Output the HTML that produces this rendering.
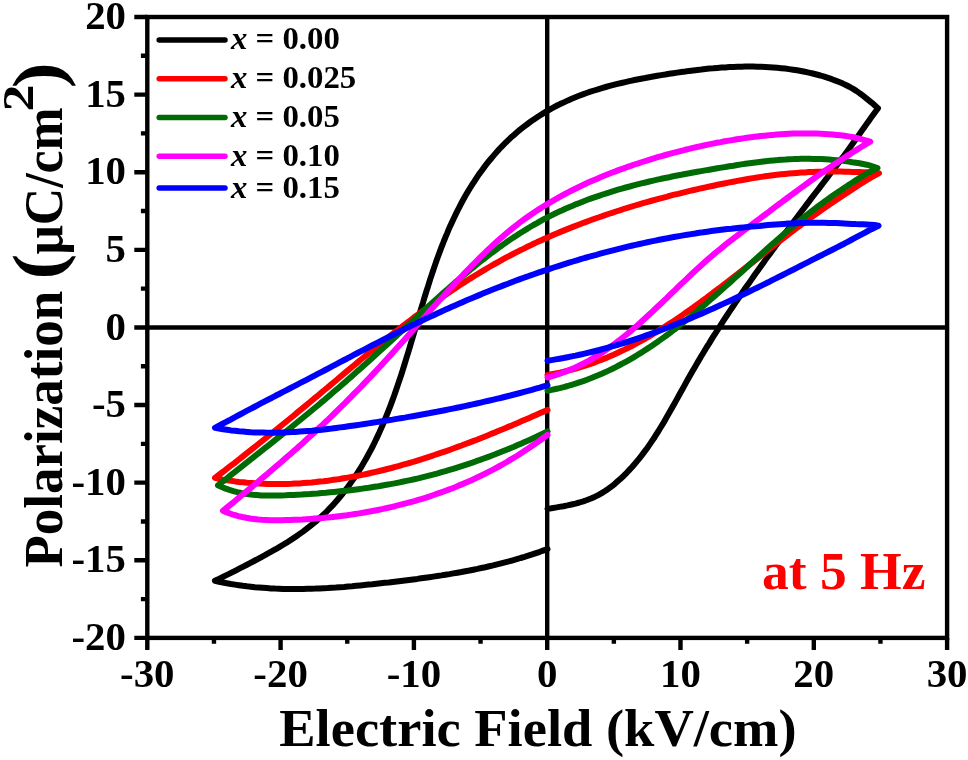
<!DOCTYPE html>
<html lang="en">
<head>
<meta charset="utf-8">
<title>P-E hysteresis loops</title>
<style>
html,body{margin:0;padding:0;background:#fff;}
body{width:968px;height:760px;overflow:hidden;position:relative;font-family:"Liberation Serif",serif;}
svg{position:absolute;left:0;top:0;display:block;will-change:transform;}
text{font-family:"Liberation Serif",serif;font-weight:bold;fill:#000;}
.tick{font-size:39.5px;}
.leg{font-size:32px;}
.leg .it{font-style:italic;}
.xl{font-size:53px;}
.yl{font-size:53px;}
.note{font-size:53px;fill:#ff0000;}
.crv{fill:none;stroke-width:6;stroke-linejoin:round;stroke-linecap:round;}
.ax{stroke:#000;fill:none;}
</style>
</head>
<body>
<svg width="968" height="760" viewBox="0 0 968 760">
<rect x="0" y="0" width="968" height="760" fill="#ffffff"/>
<line class="ax" x1="147.3" y1="327.45" x2="947.1" y2="327.45" stroke-width="4.4"/>
<line class="ax" x1="547.20" y1="17.0" x2="547.20" y2="637.9" stroke-width="4.4"/>
<path class="crv" stroke="#000000" d="M547.5 508.9 L551.5 508.3 L555.4 507.6 L559.4 506.9 L563.5 506.2 L567.5 505.4 L571.5 504.5 L575.5 503.6 L579.4 502.5 L583.3 501.3 L587.1 500.0 L590.9 498.5 L594.6 496.9 L598.2 495.1 L601.7 493.1 L605.1 491.0 L608.5 488.7 L611.7 486.3 L614.9 483.8 L617.9 481.1 L620.9 478.4 L623.8 475.7 L626.7 472.8 L629.4 469.9 L632.1 467.0 L634.7 464.0 L637.3 460.9 L639.8 457.8 L642.3 454.6 L644.7 451.4 L647.1 448.2 L649.4 444.9 L651.6 441.6 L653.9 438.3 L656.0 434.9 L658.2 431.5 L660.3 428.0 L662.4 424.6 L664.5 421.1 L666.5 417.6 L668.5 414.1 L670.5 410.6 L672.5 407.0 L674.5 403.5 L676.5 399.9 L678.5 396.3 L680.4 392.8 L682.4 389.2 L684.4 385.6 L686.3 382.1 L688.3 378.5 L690.3 375.0 L692.3 371.5 L694.4 367.9 L696.4 364.4 L698.5 360.9 L700.5 357.4 L702.6 354.0 L704.7 350.5 L706.8 347.0 L709.0 343.6 L711.1 340.1 L713.2 336.7 L715.4 333.3 L717.6 329.9 L719.7 326.5 L721.9 323.1 L724.1 319.7 L726.4 316.3 L728.6 312.9 L730.8 309.6 L733.1 306.2 L735.3 302.9 L737.6 299.5 L739.9 296.2 L742.1 292.9 L744.4 289.5 L746.7 286.2 L749.1 282.9 L751.4 279.6 L753.7 276.3 L756.0 273.0 L758.4 269.7 L760.7 266.5 L763.1 263.2 L765.4 259.9 L767.8 256.6 L770.2 253.4 L772.6 250.1 L775.0 246.9 L777.3 243.6 L779.7 240.4 L782.1 237.1 L784.6 233.9 L787.0 230.7 L789.4 227.4 L791.8 224.2 L794.2 221.0 L796.7 217.7 L799.1 214.5 L801.5 211.3 L804.0 208.1 L806.4 204.9 L808.9 201.6 L811.3 198.4 L813.8 195.2 L816.2 192.0 L818.7 188.8 L821.1 185.6 L823.6 182.4 L826.1 179.2 L828.5 175.9 L831.0 172.7 L833.4 169.5 L835.9 166.3 L838.4 163.1 L840.8 159.9 L843.3 156.7 L845.6 153.5 L848.0 150.2 L850.3 147.0 L852.6 143.8 L854.9 140.6 L857.2 137.4 L859.5 134.1 L861.7 130.9 L864.0 127.7 L866.3 124.4 L868.6 121.2 L870.9 117.9 L873.2 114.7 L875.6 111.5 L878.0 108.2 L874.9 105.5 L871.9 102.8 L868.8 100.3 L865.7 97.8 L862.6 95.4 L859.5 93.1 L856.3 90.9 L853.1 88.9 L849.8 87.0 L846.4 85.3 L842.9 83.6 L839.2 82.0 L835.5 80.6 L831.8 79.2 L828.0 77.9 L824.3 76.7 L820.4 75.5 L816.6 74.5 L812.7 73.5 L808.8 72.6 L804.9 71.8 L801.0 71.0 L797.0 70.3 L793.1 69.7 L789.1 69.1 L785.2 68.6 L781.2 68.2 L777.2 67.8 L773.3 67.5 L769.3 67.2 L765.3 67.0 L761.3 66.8 L757.3 66.7 L753.3 66.6 L749.4 66.6 L745.4 66.6 L741.4 66.7 L737.4 66.8 L733.4 66.9 L729.4 67.1 L725.4 67.4 L721.4 67.6 L717.4 67.9 L713.3 68.3 L709.3 68.6 L705.3 69.0 L701.3 69.5 L697.3 69.9 L693.3 70.4 L689.3 70.9 L685.3 71.5 L681.3 72.0 L677.2 72.6 L673.2 73.2 L669.2 73.8 L665.2 74.5 L661.2 75.1 L657.2 75.8 L653.2 76.5 L649.2 77.2 L645.2 78.0 L641.2 78.7 L637.2 79.5 L633.2 80.3 L629.3 81.2 L625.3 82.1 L621.4 83.0 L617.4 83.9 L613.5 84.9 L609.6 85.9 L605.7 87.0 L601.9 88.1 L598.0 89.3 L594.2 90.5 L590.4 91.7 L586.6 93.0 L582.8 94.4 L579.1 95.8 L575.4 97.3 L571.7 98.8 L568.0 100.4 L564.4 102.1 L560.7 103.8 L557.2 105.5 L553.6 107.4 L550.1 109.3 L546.6 111.3 L543.2 113.4 L539.8 115.5 L536.4 117.7 L533.1 119.9 L529.8 122.3 L526.5 124.7 L523.3 127.1 L520.1 129.6 L517.0 132.2 L514.0 134.9 L510.9 137.6 L508.0 140.4 L505.1 143.2 L502.2 146.1 L499.4 149.0 L496.7 152.0 L494.0 155.1 L491.4 158.2 L488.8 161.3 L486.3 164.4 L483.9 167.6 L481.5 170.9 L479.1 174.1 L476.9 177.4 L474.7 180.8 L472.5 184.1 L470.4 187.5 L468.3 190.9 L466.3 194.3 L464.3 197.8 L462.4 201.3 L460.5 204.8 L458.7 208.3 L456.9 211.9 L455.2 215.4 L453.5 219.0 L451.8 222.6 L450.1 226.3 L448.5 229.9 L447.0 233.6 L445.4 237.3 L443.9 241.0 L442.5 244.7 L441.0 248.4 L439.6 252.2 L438.2 256.0 L436.8 259.8 L435.5 263.6 L434.2 267.4 L432.9 271.2 L431.6 275.1 L430.3 278.9 L429.1 282.8 L427.9 286.7 L426.6 290.6 L425.4 294.5 L424.2 298.4 L423.1 302.3 L421.9 306.2 L420.7 310.1 L419.5 314.0 L418.4 318.0 L417.2 321.9 L416.1 325.8 L414.9 329.8 L413.8 333.7 L412.6 337.6 L411.4 341.5 L410.3 345.5 L409.1 349.4 L407.9 353.3 L406.7 357.2 L405.5 361.1 L404.3 365.0 L403.1 368.9 L401.9 372.8 L400.6 376.7 L399.3 380.5 L398.0 384.4 L396.7 388.2 L395.4 392.0 L394.1 395.8 L392.7 399.6 L391.3 403.4 L389.9 407.2 L388.4 410.9 L386.9 414.7 L385.4 418.4 L383.9 422.1 L382.3 425.7 L380.7 429.4 L379.1 433.0 L377.4 436.6 L375.7 440.2 L374.0 443.7 L372.2 447.3 L370.4 450.8 L368.5 454.2 L366.6 457.7 L364.7 461.1 L362.7 464.5 L360.7 467.9 L358.6 471.2 L356.5 474.5 L354.3 477.7 L352.1 480.9 L349.9 484.1 L347.6 487.3 L345.2 490.4 L342.8 493.5 L340.3 496.5 L337.8 499.5 L335.2 502.5 L332.6 505.4 L329.9 508.2 L327.2 511.0 L324.4 513.8 L321.5 516.5 L318.6 519.1 L315.6 521.7 L312.5 524.2 L309.4 526.7 L306.2 529.2 L303.0 531.6 L299.7 533.9 L296.4 536.2 L293.0 538.5 L289.6 540.7 L286.2 542.9 L282.7 545.0 L279.2 547.1 L275.7 549.2 L272.1 551.2 L268.5 553.2 L265.0 555.2 L261.4 557.1 L257.7 559.1 L254.1 561.0 L250.5 562.9 L246.9 564.7 L243.3 566.6 L239.7 568.4 L236.1 570.3 L232.5 572.1 L229.0 573.9 L225.4 575.6 L221.9 577.4 L218.4 579.1 L215.0 580.8 L219.0 581.7 L222.9 582.5 L226.9 583.3 L230.9 584.0 L234.9 584.6 L238.9 585.2 L242.9 585.8 L246.9 586.3 L250.9 586.7 L254.9 587.2 L258.9 587.5 L262.9 587.8 L266.9 588.1 L271.0 588.4 L275.0 588.6 L279.0 588.7 L283.1 588.9 L287.1 588.9 L291.2 589.0 L295.2 589.0 L299.3 589.0 L303.3 588.9 L307.4 588.8 L311.5 588.7 L315.5 588.6 L319.6 588.4 L323.6 588.2 L327.7 588.0 L331.8 587.7 L335.8 587.5 L339.9 587.2 L344.0 586.9 L348.1 586.5 L352.1 586.2 L356.2 585.8 L360.3 585.4 L364.3 585.0 L368.4 584.6 L372.5 584.2 L376.6 583.7 L380.6 583.3 L384.7 582.8 L388.8 582.4 L392.8 581.9 L396.9 581.4 L400.9 580.9 L405.0 580.4 L409.1 579.9 L413.1 579.4 L417.2 578.9 L421.2 578.3 L425.2 577.8 L429.3 577.2 L433.3 576.6 L437.4 576.0 L441.4 575.4 L445.4 574.7 L449.4 574.1 L453.4 573.4 L457.4 572.7 L461.4 572.0 L465.4 571.2 L469.4 570.5 L473.4 569.7 L477.4 568.9 L481.3 568.0 L485.3 567.2 L489.3 566.3 L493.2 565.4 L497.1 564.4 L501.1 563.4 L505.0 562.4 L508.9 561.4 L512.8 560.3 L516.7 559.2 L520.6 558.0 L524.5 556.9 L528.3 555.7 L532.2 554.4 L536.0 553.1 L539.9 551.8 L543.7 550.4 L547.5 549.0"/>
<path class="crv" stroke="#ff0000" d="M547.5 375.0 L551.6 374.2 L555.7 373.4 L559.8 372.6 L563.8 371.7 L567.8 370.7 L571.8 369.6 L575.7 368.6 L579.6 367.4 L583.5 366.2 L587.3 364.9 L591.2 363.6 L595.0 362.3 L598.8 360.8 L602.5 359.4 L606.2 357.9 L609.9 356.3 L613.6 354.7 L617.3 353.0 L620.9 351.3 L624.5 349.6 L628.1 347.8 L631.7 346.0 L635.2 344.1 L638.7 342.2 L642.2 340.3 L645.7 338.3 L649.2 336.3 L652.7 334.3 L656.1 332.2 L659.5 330.1 L662.9 328.0 L666.3 325.8 L669.7 323.6 L673.1 321.4 L676.4 319.2 L679.8 316.9 L683.1 314.6 L686.4 312.3 L689.7 310.0 L693.0 307.6 L696.3 305.3 L699.6 302.9 L702.8 300.5 L706.1 298.1 L709.3 295.6 L712.6 293.2 L715.8 290.7 L719.1 288.3 L722.3 285.8 L725.5 283.3 L728.7 280.9 L731.9 278.4 L735.1 275.9 L738.4 273.4 L741.6 270.9 L744.8 268.3 L748.0 265.8 L751.2 263.3 L754.4 260.8 L757.6 258.3 L760.8 255.8 L764.0 253.3 L767.2 250.7 L770.4 248.2 L773.6 245.7 L776.8 243.2 L780.0 240.8 L783.3 238.3 L786.5 235.8 L789.7 233.3 L793.0 230.9 L796.2 228.4 L799.5 226.0 L802.7 223.6 L806.0 221.2 L809.3 218.8 L812.6 216.4 L815.9 214.0 L819.2 211.7 L822.5 209.3 L825.8 207.0 L829.1 204.7 L832.5 202.5 L835.9 200.2 L839.2 198.0 L842.6 195.8 L845.9 193.6 L849.2 191.4 L852.4 189.3 L855.6 187.2 L858.8 185.1 L862.1 183.0 L865.3 181.0 L868.6 179.0 L872.0 177.0 L875.4 175.1 L879.0 173.2 L875.0 172.8 L871.2 172.5 L867.4 172.3 L863.6 172.2 L859.9 172.1 L856.2 172.0 L852.5 171.9 L848.7 171.8 L844.9 171.7 L840.9 171.6 L836.9 171.6 L832.9 171.6 L828.9 171.6 L824.9 171.6 L820.9 171.7 L816.9 171.8 L812.9 172.0 L808.9 172.1 L804.9 172.4 L801.0 172.6 L797.0 172.9 L793.0 173.2 L789.0 173.5 L785.0 173.9 L781.0 174.3 L777.0 174.8 L773.0 175.3 L769.1 175.8 L765.1 176.3 L761.1 176.9 L757.1 177.5 L753.1 178.1 L749.2 178.8 L745.2 179.5 L741.2 180.2 L737.3 180.9 L733.3 181.7 L729.4 182.4 L725.4 183.2 L721.4 184.0 L717.5 184.8 L713.5 185.7 L709.6 186.5 L705.6 187.4 L701.7 188.2 L697.8 189.1 L693.8 190.0 L689.9 190.9 L686.0 191.8 L682.0 192.8 L678.1 193.8 L674.2 194.7 L670.3 195.7 L666.4 196.8 L662.5 197.8 L658.6 198.8 L654.7 199.9 L650.8 201.0 L646.9 202.1 L643.0 203.2 L639.1 204.3 L635.2 205.5 L631.4 206.7 L627.5 207.8 L623.6 209.0 L619.8 210.3 L615.9 211.5 L612.1 212.8 L608.3 214.0 L604.5 215.3 L600.6 216.7 L596.8 218.0 L593.0 219.3 L589.2 220.7 L585.5 222.1 L581.7 223.5 L577.9 225.0 L574.2 226.4 L570.4 227.9 L566.7 229.4 L563.0 230.9 L559.2 232.4 L555.5 234.0 L551.9 235.6 L548.2 237.2 L544.5 238.8 L540.8 240.5 L537.2 242.1 L533.6 243.8 L530.0 245.6 L526.3 247.3 L522.8 249.1 L519.2 250.8 L515.6 252.7 L512.1 254.5 L508.5 256.4 L505.0 258.2 L501.5 260.1 L498.0 262.1 L494.5 264.0 L491.0 266.0 L487.6 268.0 L484.1 270.1 L480.7 272.1 L477.3 274.2 L473.9 276.3 L470.5 278.4 L467.1 280.5 L463.8 282.7 L460.4 284.8 L457.1 287.0 L453.8 289.2 L450.4 291.5 L447.1 293.7 L443.8 296.0 L440.6 298.2 L437.3 300.5 L434.0 302.9 L430.8 305.2 L427.5 307.5 L424.3 309.9 L421.0 312.3 L417.8 314.6 L414.6 317.0 L411.4 319.5 L408.2 321.9 L405.0 324.3 L401.8 326.8 L398.7 329.2 L395.5 331.7 L392.3 334.2 L389.2 336.7 L386.0 339.2 L382.9 341.7 L379.7 344.2 L376.6 346.8 L373.5 349.3 L370.4 351.8 L367.2 354.4 L364.1 357.0 L361.0 359.5 L357.9 362.1 L354.8 364.7 L351.7 367.3 L348.6 369.8 L345.5 372.4 L342.4 375.0 L339.4 377.6 L336.3 380.2 L333.2 382.8 L330.1 385.4 L327.0 388.0 L323.9 390.5 L320.9 393.1 L317.8 395.7 L314.7 398.2 L311.6 400.8 L308.6 403.3 L305.5 405.9 L302.4 408.4 L299.3 410.9 L296.2 413.4 L293.2 416.0 L290.1 418.5 L287.0 421.0 L283.9 423.5 L280.8 426.0 L277.7 428.5 L274.6 431.0 L271.5 433.5 L268.4 436.0 L265.3 438.5 L262.2 441.0 L259.1 443.5 L256.0 446.0 L252.9 448.4 L249.8 450.9 L246.6 453.4 L243.5 455.9 L240.4 458.4 L237.2 460.8 L234.1 463.3 L230.9 465.7 L227.7 468.2 L224.6 470.6 L221.4 473.0 L218.2 475.4 L215.0 477.8 L219.0 478.9 L223.0 479.6 L227.1 480.2 L231.1 480.8 L235.1 481.4 L239.1 481.9 L243.2 482.3 L247.2 482.7 L251.2 483.0 L255.2 483.3 L259.3 483.5 L263.3 483.7 L267.3 483.9 L271.4 484.0 L275.4 484.0 L279.4 484.0 L283.4 484.0 L287.5 483.9 L291.5 483.8 L295.5 483.6 L299.5 483.4 L303.6 483.1 L307.6 482.8 L311.6 482.5 L315.6 482.1 L319.6 481.6 L323.7 481.2 L327.7 480.7 L331.7 480.1 L335.7 479.6 L339.7 479.0 L343.7 478.3 L347.7 477.6 L351.7 476.9 L355.7 476.2 L359.7 475.4 L363.6 474.6 L367.6 473.7 L371.6 472.8 L375.6 471.9 L379.5 471.0 L383.5 470.0 L387.4 469.0 L391.4 468.0 L395.4 466.9 L399.3 465.9 L403.2 464.7 L407.2 463.6 L411.1 462.5 L415.0 461.3 L418.9 460.1 L422.8 458.9 L426.7 457.6 L430.6 456.3 L434.5 455.0 L438.4 453.7 L442.3 452.4 L446.2 451.1 L450.0 449.7 L453.9 448.3 L457.7 446.9 L461.6 445.5 L465.4 444.0 L469.2 442.6 L473.1 441.1 L476.9 439.7 L480.7 438.2 L484.5 436.7 L488.2 435.2 L492.0 433.6 L495.8 432.1 L499.5 430.5 L503.3 429.0 L507.0 427.4 L510.8 425.9 L514.5 424.3 L518.2 422.7 L521.9 421.1 L525.6 419.5 L529.3 417.9 L532.9 416.3 L536.6 414.7 L540.2 413.1 L543.9 411.5 L547.5 409.9"/>
<path class="crv" stroke="#006b04" d="M547.5 390.7 L551.6 389.9 L555.7 389.0 L559.7 388.1 L563.7 387.1 L567.7 386.0 L571.6 384.8 L575.5 383.7 L579.3 382.4 L583.2 381.1 L587.0 379.7 L590.7 378.3 L594.4 376.8 L598.1 375.3 L601.8 373.7 L605.5 372.1 L609.1 370.4 L612.6 368.7 L616.2 366.9 L619.7 365.0 L623.2 363.2 L626.7 361.3 L630.2 359.3 L633.6 357.3 L637.0 355.2 L640.4 353.2 L643.8 351.0 L647.1 348.9 L650.4 346.7 L653.7 344.5 L657.0 342.2 L660.3 339.9 L663.5 337.6 L666.8 335.2 L670.0 332.8 L673.2 330.4 L676.4 328.0 L679.5 325.5 L682.7 323.0 L685.8 320.5 L689.0 317.9 L692.1 315.4 L695.2 312.8 L698.3 310.2 L701.4 307.6 L704.5 304.9 L707.5 302.3 L710.6 299.6 L713.7 296.9 L716.7 294.2 L719.8 291.5 L722.8 288.8 L725.8 286.1 L728.9 283.4 L731.9 280.7 L734.9 277.9 L737.9 275.2 L741.0 272.4 L744.0 269.7 L747.0 266.9 L750.0 264.2 L753.1 261.4 L756.1 258.7 L759.1 256.0 L762.2 253.2 L765.2 250.5 L768.2 247.8 L771.3 245.1 L774.3 242.4 L777.4 239.7 L780.5 237.0 L783.6 234.3 L786.7 231.7 L789.7 229.1 L792.9 226.4 L796.0 223.8 L799.1 221.3 L802.3 218.7 L805.4 216.2 L808.6 213.6 L811.8 211.1 L815.0 208.7 L818.2 206.2 L821.4 203.8 L824.7 201.4 L827.9 199.1 L831.2 196.7 L834.5 194.4 L837.8 192.2 L841.2 190.0 L844.5 187.8 L847.7 185.6 L851.0 183.5 L854.2 181.4 L857.4 179.4 L860.6 177.4 L863.8 175.4 L867.1 173.5 L870.5 171.6 L873.9 169.8 L877.5 168.0 L873.9 166.8 L870.3 165.7 L866.7 164.7 L863.1 164.0 L859.5 163.3 L855.9 162.7 L852.3 162.2 L848.6 161.6 L844.9 161.1 L841.0 160.6 L837.1 160.2 L833.1 159.9 L829.2 159.6 L825.2 159.3 L821.3 159.1 L817.3 159.0 L813.4 158.9 L809.4 158.8 L805.4 158.8 L801.5 158.8 L797.5 158.9 L793.5 159.1 L789.5 159.2 L785.5 159.5 L781.5 159.7 L777.5 160.1 L773.5 160.4 L769.5 160.8 L765.5 161.2 L761.5 161.7 L757.5 162.2 L753.5 162.7 L749.5 163.2 L745.4 163.8 L741.4 164.4 L737.4 165.0 L733.4 165.7 L729.4 166.3 L725.4 167.0 L721.3 167.6 L717.3 168.3 L713.3 169.0 L709.3 169.7 L705.3 170.4 L701.2 171.1 L697.2 171.8 L693.2 172.5 L689.2 173.3 L685.2 174.0 L681.2 174.8 L677.2 175.5 L673.2 176.3 L669.2 177.2 L665.2 178.0 L661.2 178.8 L657.3 179.7 L653.3 180.6 L649.3 181.5 L645.4 182.5 L641.4 183.4 L637.5 184.4 L633.6 185.4 L629.7 186.5 L625.8 187.5 L621.9 188.6 L618.0 189.7 L614.2 190.9 L610.3 192.1 L606.5 193.3 L602.7 194.5 L598.9 195.8 L595.1 197.1 L591.3 198.4 L587.5 199.8 L583.8 201.2 L580.1 202.7 L576.4 204.1 L572.7 205.7 L569.0 207.2 L565.4 208.8 L561.8 210.5 L558.1 212.1 L554.6 213.8 L551.0 215.6 L547.5 217.4 L543.9 219.2 L540.4 221.1 L537.0 223.1 L533.5 225.0 L530.1 227.0 L526.7 229.1 L523.3 231.2 L519.9 233.3 L516.6 235.5 L513.2 237.6 L509.9 239.9 L506.6 242.1 L503.4 244.4 L500.1 246.7 L496.9 249.1 L493.6 251.5 L490.4 253.9 L487.2 256.3 L484.0 258.8 L480.9 261.2 L477.7 263.7 L474.6 266.3 L471.4 268.8 L468.3 271.4 L465.2 274.0 L462.1 276.6 L459.0 279.2 L455.9 281.8 L452.9 284.5 L449.8 287.2 L446.8 289.9 L443.7 292.5 L440.7 295.2 L437.7 298.0 L434.6 300.7 L431.6 303.4 L428.6 306.2 L425.6 308.9 L422.6 311.7 L419.6 314.4 L416.6 317.2 L413.6 319.9 L410.7 322.7 L407.7 325.4 L404.7 328.2 L401.7 331.0 L398.7 333.7 L395.8 336.5 L392.8 339.2 L389.8 341.9 L386.8 344.7 L383.9 347.4 L380.9 350.1 L377.9 352.8 L374.9 355.5 L371.9 358.2 L368.9 360.9 L366.0 363.6 L363.0 366.3 L360.0 368.9 L357.0 371.6 L354.0 374.2 L351.0 376.9 L348.0 379.5 L345.0 382.2 L342.0 384.8 L339.0 387.4 L335.9 390.0 L332.9 392.6 L329.9 395.2 L326.9 397.8 L323.9 400.4 L320.8 402.9 L317.8 405.5 L314.7 408.0 L311.7 410.5 L308.7 413.0 L305.6 415.5 L302.6 418.0 L299.5 420.5 L296.4 423.0 L293.4 425.5 L290.3 428.0 L287.2 430.5 L284.1 432.9 L281.0 435.4 L277.9 437.9 L274.8 440.3 L271.7 442.8 L268.6 445.3 L265.5 447.7 L262.4 450.2 L259.3 452.7 L256.1 455.2 L253.0 457.7 L249.8 460.2 L246.7 462.7 L243.5 465.2 L240.4 467.7 L237.2 470.2 L234.0 472.7 L230.8 475.2 L227.6 477.8 L224.4 480.3 L221.2 482.8 L218.0 485.3 L221.8 487.0 L225.7 488.6 L229.5 489.9 L233.4 491.1 L237.3 492.1 L241.2 493.0 L245.2 493.7 L249.1 494.3 L253.1 494.8 L257.1 495.1 L261.1 495.4 L265.1 495.5 L269.1 495.6 L273.1 495.6 L277.2 495.5 L281.2 495.4 L285.3 495.3 L289.3 495.1 L293.4 494.9 L297.4 494.7 L301.5 494.5 L305.5 494.2 L309.6 494.0 L313.7 493.7 L317.7 493.4 L321.8 493.0 L325.9 492.7 L329.9 492.3 L334.0 491.9 L338.1 491.5 L342.1 491.1 L346.2 490.7 L350.2 490.2 L354.3 489.7 L358.3 489.2 L362.4 488.6 L366.4 488.1 L370.4 487.5 L374.5 486.8 L378.5 486.2 L382.5 485.5 L386.5 484.8 L390.5 484.1 L394.5 483.4 L398.5 482.6 L402.4 481.8 L406.4 480.9 L410.3 480.1 L414.3 479.2 L418.2 478.3 L422.1 477.3 L426.1 476.3 L430.0 475.3 L433.9 474.3 L437.8 473.3 L441.6 472.2 L445.5 471.1 L449.4 469.9 L453.2 468.8 L457.1 467.6 L460.9 466.4 L464.8 465.1 L468.6 463.8 L472.4 462.6 L476.2 461.2 L480.0 459.9 L483.8 458.5 L487.6 457.1 L491.4 455.7 L495.2 454.3 L499.0 452.8 L502.7 451.3 L506.5 449.8 L510.2 448.2 L514.0 446.7 L517.7 445.1 L521.5 443.5 L525.2 441.8 L528.9 440.2 L532.7 438.5 L536.4 436.8 L540.1 435.1 L543.8 433.3 L547.5 431.5"/>
<path class="crv" stroke="#ff00ff" d="M547.5 377.5 L551.5 376.4 L555.4 375.2 L559.3 373.9 L563.1 372.5 L566.9 371.1 L570.6 369.5 L574.3 367.9 L578.0 366.2 L581.5 364.5 L585.1 362.7 L588.6 360.8 L592.0 358.8 L595.4 356.8 L598.8 354.7 L602.2 352.5 L605.5 350.3 L608.7 348.0 L612.0 345.7 L615.2 343.4 L618.4 341.0 L621.5 338.5 L624.7 336.0 L627.8 333.5 L630.9 330.9 L633.9 328.3 L637.0 325.7 L640.0 323.0 L643.0 320.3 L646.0 317.6 L649.0 314.8 L651.9 312.1 L654.9 309.3 L657.8 306.5 L660.8 303.7 L663.7 300.9 L666.7 298.1 L669.6 295.2 L672.5 292.4 L675.5 289.6 L678.4 286.7 L681.3 283.9 L684.3 281.1 L687.2 278.3 L690.2 275.5 L693.1 272.7 L696.1 270.0 L699.1 267.2 L702.1 264.5 L705.1 261.8 L708.2 259.1 L711.2 256.5 L714.3 253.9 L717.4 251.3 L720.5 248.8 L723.7 246.2 L726.8 243.7 L730.0 241.2 L733.2 238.7 L736.3 236.3 L739.5 233.8 L742.7 231.4 L745.9 229.0 L749.2 226.6 L752.4 224.1 L755.6 221.7 L758.8 219.3 L762.0 216.9 L765.3 214.5 L768.5 212.1 L771.7 209.6 L774.9 207.2 L778.2 204.8 L781.4 202.4 L784.6 200.0 L787.9 197.5 L791.1 195.1 L794.4 192.7 L797.6 190.3 L800.9 187.9 L804.1 185.6 L807.4 183.2 L810.7 180.8 L814.0 178.5 L817.3 176.1 L820.6 173.8 L823.9 171.5 L827.2 169.2 L830.6 166.9 L833.9 164.6 L837.3 162.4 L840.7 160.2 L844.0 158.0 L847.3 155.9 L850.6 153.7 L853.8 151.6 L857.0 149.6 L860.3 147.5 L863.5 145.6 L866.8 143.6 L870.2 141.7 L866.5 140.6 L862.9 139.6 L859.3 138.6 L855.6 137.8 L852.0 137.0 L848.3 136.4 L844.5 135.8 L840.6 135.3 L836.6 134.9 L832.7 134.5 L828.7 134.2 L824.7 133.9 L820.7 133.7 L816.8 133.5 L812.8 133.4 L808.8 133.4 L804.8 133.4 L800.8 133.4 L796.8 133.5 L792.8 133.6 L788.8 133.8 L784.8 134.0 L780.8 134.3 L776.8 134.6 L772.7 134.9 L768.7 135.3 L764.7 135.7 L760.7 136.1 L756.7 136.6 L752.7 137.1 L748.7 137.6 L744.7 138.1 L740.7 138.7 L736.7 139.3 L732.8 140.0 L728.8 140.6 L724.8 141.3 L720.8 142.1 L716.8 142.8 L712.8 143.6 L708.9 144.4 L704.9 145.2 L700.9 146.1 L697.0 147.0 L693.0 147.9 L689.1 148.9 L685.1 149.8 L681.2 150.8 L677.3 151.8 L673.3 152.9 L669.4 153.9 L665.5 155.0 L661.6 156.1 L657.7 157.2 L653.8 158.4 L649.9 159.6 L646.0 160.8 L642.2 162.0 L638.3 163.3 L634.4 164.5 L630.6 165.9 L626.8 167.2 L623.0 168.6 L619.2 169.9 L615.4 171.4 L611.6 172.8 L607.8 174.3 L604.1 175.8 L600.4 177.3 L596.7 178.9 L593.0 180.5 L589.3 182.1 L585.6 183.8 L582.0 185.5 L578.4 187.2 L574.8 189.0 L571.2 190.8 L567.6 192.6 L564.1 194.5 L560.6 196.4 L557.1 198.4 L553.6 200.3 L550.2 202.3 L546.7 204.4 L543.3 206.5 L540.0 208.6 L536.6 210.8 L533.3 213.0 L530.0 215.2 L526.8 217.5 L523.5 219.8 L520.3 222.2 L517.2 224.6 L514.0 227.1 L510.9 229.6 L507.8 232.1 L504.7 234.7 L501.7 237.4 L498.6 240.0 L495.6 242.7 L492.6 245.5 L489.7 248.3 L486.7 251.0 L483.8 253.9 L480.9 256.7 L478.0 259.6 L475.1 262.5 L472.2 265.4 L469.4 268.3 L466.6 271.2 L463.7 274.2 L460.9 277.2 L458.1 280.1 L455.3 283.1 L452.6 286.1 L449.8 289.0 L447.1 292.0 L444.3 295.0 L441.6 298.0 L438.8 301.0 L436.1 304.1 L433.4 307.1 L430.7 310.1 L428.0 313.2 L425.3 316.2 L422.6 319.2 L419.9 322.3 L417.2 325.3 L414.5 328.4 L411.8 331.4 L409.1 334.5 L406.4 337.5 L403.7 340.6 L401.0 343.6 L398.3 346.6 L395.6 349.6 L392.9 352.6 L390.1 355.6 L387.4 358.6 L384.7 361.6 L381.9 364.6 L379.2 367.5 L376.4 370.5 L373.7 373.4 L370.9 376.3 L368.1 379.3 L365.3 382.2 L362.6 385.1 L359.8 388.0 L357.0 390.8 L354.1 393.7 L351.3 396.6 L348.5 399.4 L345.7 402.3 L342.8 405.1 L340.0 407.9 L337.2 410.7 L334.3 413.5 L331.4 416.3 L328.6 419.1 L325.7 421.8 L322.8 424.6 L319.9 427.3 L317.0 430.0 L314.1 432.7 L311.2 435.4 L308.2 438.1 L305.3 440.7 L302.4 443.4 L299.4 446.0 L296.5 448.7 L293.5 451.3 L290.5 453.9 L287.5 456.5 L284.6 459.1 L281.6 461.7 L278.6 464.3 L275.5 466.9 L272.5 469.5 L269.5 472.1 L266.5 474.7 L263.4 477.2 L260.3 479.8 L257.3 482.4 L254.2 485.0 L251.1 487.6 L248.0 490.1 L244.9 492.7 L241.8 495.3 L238.7 497.9 L235.6 500.5 L232.5 503.1 L229.3 505.7 L226.2 508.2 L223.0 510.8 L226.8 512.4 L230.7 513.8 L234.5 515.0 L238.4 516.1 L242.3 517.0 L246.2 517.8 L250.2 518.5 L254.1 519.0 L258.1 519.5 L262.1 519.8 L266.0 520.0 L270.0 520.2 L274.1 520.3 L278.1 520.3 L282.1 520.2 L286.1 520.1 L290.2 520.0 L294.2 519.8 L298.3 519.7 L302.3 519.5 L306.4 519.2 L310.4 518.9 L314.5 518.6 L318.5 518.3 L322.6 518.0 L326.7 517.6 L330.7 517.2 L334.8 516.7 L338.8 516.2 L342.9 515.7 L346.9 515.2 L350.9 514.6 L355.0 514.0 L359.0 513.4 L363.0 512.7 L367.0 512.0 L371.1 511.3 L375.1 510.5 L379.0 509.7 L383.0 508.9 L387.0 508.0 L390.9 507.1 L394.9 506.2 L398.8 505.2 L402.7 504.2 L406.6 503.2 L410.5 502.1 L414.4 501.1 L418.3 499.9 L422.1 498.8 L426.0 497.6 L429.8 496.3 L433.6 495.0 L437.4 493.7 L441.2 492.4 L445.0 491.0 L448.7 489.6 L452.5 488.2 L456.2 486.7 L459.9 485.1 L463.6 483.6 L467.3 482.0 L470.9 480.4 L474.6 478.7 L478.2 477.0 L481.9 475.2 L485.5 473.5 L489.1 471.6 L492.6 469.8 L496.2 467.9 L499.7 466.0 L503.3 464.0 L506.8 462.0 L510.2 459.9 L513.7 457.8 L517.2 455.7 L520.6 453.5 L524.0 451.3 L527.4 449.1 L530.8 446.8 L534.2 444.5 L537.6 442.1 L540.9 439.7 L544.2 437.3 L547.5 434.8"/>
<path class="crv" stroke="#0000ff" d="M547.5 360.7 L551.5 360.1 L555.6 359.4 L559.6 358.7 L563.6 358.0 L567.6 357.2 L571.6 356.4 L575.6 355.6 L579.6 354.7 L583.5 353.8 L587.5 352.9 L591.4 352.0 L595.4 351.0 L599.3 350.0 L603.2 348.9 L607.1 347.8 L611.0 346.7 L614.9 345.6 L618.8 344.5 L622.6 343.3 L626.5 342.1 L630.3 340.9 L634.2 339.6 L638.0 338.3 L641.8 337.0 L645.6 335.7 L649.4 334.4 L653.2 333.0 L657.0 331.6 L660.8 330.2 L664.6 328.7 L668.4 327.3 L672.1 325.8 L675.9 324.3 L679.7 322.8 L683.4 321.3 L687.1 319.7 L690.9 318.2 L694.6 316.6 L698.3 315.0 L702.0 313.4 L705.8 311.8 L709.5 310.1 L713.2 308.5 L716.9 306.8 L720.6 305.1 L724.2 303.4 L727.9 301.7 L731.6 300.0 L735.3 298.2 L738.9 296.5 L742.6 294.8 L746.3 293.0 L749.9 291.2 L753.6 289.4 L757.2 287.7 L760.9 285.9 L764.5 284.1 L768.2 282.3 L771.8 280.4 L775.4 278.6 L779.1 276.8 L782.7 275.0 L786.3 273.1 L790.0 271.3 L793.6 269.5 L797.2 267.6 L800.8 265.8 L804.5 263.9 L808.1 262.1 L811.7 260.2 L815.3 258.4 L818.9 256.5 L822.6 254.7 L826.2 252.8 L829.8 251.0 L833.4 249.2 L837.0 247.3 L840.6 245.5 L844.2 243.7 L847.7 241.8 L851.1 240.0 L854.5 238.2 L857.8 236.4 L861.2 234.6 L864.6 232.8 L867.9 231.0 L871.4 229.2 L874.9 227.5 L878.5 225.7 L874.5 225.0 L870.7 224.7 L866.9 224.5 L863.1 224.3 L859.4 224.2 L855.7 224.1 L851.9 223.9 L848.1 223.7 L844.2 223.5 L840.3 223.3 L836.3 223.1 L832.2 223.0 L828.2 222.9 L824.2 222.8 L820.1 222.7 L816.1 222.7 L812.0 222.7 L808.0 222.8 L804.0 222.9 L799.9 223.0 L795.9 223.2 L791.9 223.4 L787.8 223.6 L783.8 223.9 L779.7 224.2 L775.7 224.5 L771.7 224.8 L767.6 225.1 L763.6 225.5 L759.6 225.9 L755.5 226.2 L751.5 226.6 L747.5 227.0 L743.4 227.4 L739.4 227.8 L735.4 228.2 L731.4 228.7 L727.3 229.1 L723.3 229.6 L719.3 230.1 L715.3 230.6 L711.3 231.1 L707.2 231.7 L703.2 232.3 L699.2 232.8 L695.2 233.5 L691.2 234.1 L687.2 234.7 L683.2 235.4 L679.2 236.1 L675.2 236.8 L671.3 237.5 L667.3 238.3 L663.3 239.0 L659.3 239.8 L655.4 240.6 L651.4 241.4 L647.4 242.3 L643.5 243.1 L639.5 244.0 L635.6 244.9 L631.6 245.8 L627.7 246.7 L623.7 247.7 L619.8 248.6 L615.9 249.6 L612.0 250.6 L608.0 251.6 L604.1 252.6 L600.2 253.7 L596.3 254.8 L592.4 255.8 L588.5 256.9 L584.6 258.0 L580.7 259.2 L576.9 260.3 L573.0 261.5 L569.1 262.7 L565.2 263.9 L561.4 265.1 L557.5 266.3 L553.7 267.5 L549.8 268.8 L546.0 270.1 L542.2 271.4 L538.3 272.7 L534.5 274.0 L530.7 275.3 L526.9 276.7 L523.1 278.0 L519.3 279.4 L515.5 280.8 L511.7 282.2 L507.9 283.7 L504.1 285.1 L500.4 286.6 L496.6 288.0 L492.8 289.5 L489.1 291.0 L485.3 292.5 L481.6 294.1 L477.9 295.6 L474.1 297.2 L470.4 298.8 L466.7 300.3 L463.0 301.9 L459.3 303.6 L455.6 305.2 L451.9 306.8 L448.2 308.5 L444.5 310.1 L440.9 311.8 L437.2 313.5 L433.5 315.2 L429.9 316.9 L426.2 318.6 L422.5 320.4 L418.9 322.1 L415.3 323.9 L411.6 325.6 L408.0 327.4 L404.4 329.2 L400.7 331.0 L397.1 332.8 L393.5 334.6 L389.9 336.4 L386.3 338.2 L382.7 340.0 L379.1 341.9 L375.5 343.7 L371.9 345.5 L368.3 347.4 L364.7 349.3 L361.1 351.1 L357.5 353.0 L353.9 354.9 L350.3 356.8 L346.8 358.7 L343.2 360.5 L339.6 362.4 L336.0 364.3 L332.5 366.2 L328.9 368.1 L325.3 370.0 L321.8 371.8 L318.2 373.7 L314.6 375.6 L311.1 377.4 L307.5 379.3 L304.0 381.1 L300.4 382.9 L296.8 384.8 L293.3 386.6 L289.7 388.5 L286.2 390.3 L282.6 392.1 L279.1 394.0 L275.5 395.8 L272.0 397.7 L268.4 399.5 L264.8 401.4 L261.3 403.2 L257.7 405.1 L254.2 407.0 L250.6 408.9 L247.1 410.7 L243.5 412.6 L240.0 414.5 L236.4 416.4 L232.8 418.4 L229.3 420.3 L225.7 422.1 L222.1 424.0 L218.6 425.9 L215.0 427.8 L219.0 428.5 L223.0 429.2 L227.0 429.8 L231.0 430.4 L235.1 430.8 L239.1 431.3 L243.1 431.6 L247.1 431.9 L251.2 432.2 L255.2 432.4 L259.2 432.5 L263.2 432.6 L267.3 432.7 L271.3 432.7 L275.4 432.7 L279.4 432.6 L283.4 432.5 L287.5 432.3 L291.5 432.1 L295.6 431.9 L299.6 431.6 L303.7 431.3 L307.7 431.0 L311.8 430.7 L315.8 430.3 L319.8 429.9 L323.9 429.4 L327.9 428.9 L332.0 428.5 L336.0 428.0 L340.1 427.4 L344.1 426.9 L348.2 426.3 L352.2 425.8 L356.3 425.2 L360.3 424.6 L364.4 424.0 L368.4 423.4 L372.4 422.8 L376.5 422.1 L380.5 421.5 L384.5 420.9 L388.6 420.2 L392.6 419.6 L396.6 418.9 L400.7 418.2 L404.7 417.6 L408.7 416.9 L412.7 416.2 L416.7 415.5 L420.8 414.7 L424.8 414.0 L428.8 413.3 L432.8 412.5 L436.8 411.8 L440.8 411.0 L444.8 410.2 L448.8 409.4 L452.8 408.6 L456.8 407.8 L460.8 407.0 L464.8 406.1 L468.7 405.3 L472.7 404.4 L476.7 403.5 L480.7 402.6 L484.6 401.7 L488.6 400.8 L492.5 399.9 L496.5 398.9 L500.5 398.0 L504.4 397.0 L508.3 396.0 L512.3 395.0 L516.2 394.0 L520.1 393.0 L524.1 391.9 L528.0 390.9 L531.9 389.8 L535.8 388.7 L539.7 387.6 L543.6 386.4 L547.5 385.3"/>
<rect class="ax" x="147.3" y="17.0" width="799.80" height="620.90" stroke-width="4.4"/>
<path class="ax" stroke-width="4.4" d="M134.30 637.90H147.30M134.30 560.29H147.30M134.30 482.67H147.30M134.30 405.06H147.30M134.30 327.45H147.30M134.30 249.84H147.30M134.30 172.22H147.30M134.30 94.61H147.30M134.30 17.00H147.30M140.90 599.09H147.30M140.90 521.48H147.30M140.90 443.87H147.30M140.90 366.26H147.30M140.90 288.64H147.30M140.90 211.03H147.30M140.90 133.42H147.30M140.90 55.81H147.30M147.30 637.90V650.10M280.60 637.90V650.10M413.90 637.90V650.10M547.20 637.90V650.10M680.50 637.90V650.10M813.80 637.90V650.10M947.10 637.90V650.10M213.95 637.90V643.80M347.25 637.90V643.80M480.55 637.90V643.80M613.85 637.90V643.80M747.15 637.90V643.80M880.45 637.90V643.80"/>
<text class="tick" transform="translate(126.00,650.10) scale(1.035,1)" text-anchor="end">-20</text>
<text class="tick" transform="translate(126.00,572.49) scale(1.035,1)" text-anchor="end">-15</text>
<text class="tick" transform="translate(126.00,494.87) scale(1.035,1)" text-anchor="end">-10</text>
<text class="tick" transform="translate(126.00,417.26) scale(1.035,1)" text-anchor="end">-5</text>
<text class="tick" transform="translate(126.00,339.65) scale(1.035,1)" text-anchor="end">0</text>
<text class="tick" transform="translate(126.00,262.04) scale(1.035,1)" text-anchor="end">5</text>
<text class="tick" transform="translate(126.00,184.42) scale(1.035,1)" text-anchor="end">10</text>
<text class="tick" transform="translate(126.00,106.81) scale(1.035,1)" text-anchor="end">15</text>
<text class="tick" transform="translate(126.00,29.20) scale(1.035,1)" text-anchor="end">20</text>
<text class="tick" transform="translate(147.30,687.40) scale(1.035,1)" text-anchor="middle">-30</text>
<text class="tick" transform="translate(280.60,687.40) scale(1.035,1)" text-anchor="middle">-20</text>
<text class="tick" transform="translate(413.90,687.40) scale(1.035,1)" text-anchor="middle">-10</text>
<text class="tick" transform="translate(547.20,687.40) scale(1.035,1)" text-anchor="middle">0</text>
<text class="tick" transform="translate(680.50,687.40) scale(1.035,1)" text-anchor="middle">10</text>
<text class="tick" transform="translate(813.80,687.40) scale(1.035,1)" text-anchor="middle">20</text>
<text class="tick" transform="translate(947.10,687.40) scale(1.035,1)" text-anchor="middle">30</text>
<text class="xl" transform="translate(537.90,746.00) scale(1.028,1)" text-anchor="middle">Electric Field (kV/cm)</text>
<text class="yl" transform="translate(62.30,567.50) rotate(-90) scale(1.0000,1.0450)" style="font-size:53px">Polarization</text>
<text class="yl" transform="translate(60.80,279.50) rotate(-90) scale(1.1200,1.0100)" style="font-size:69px">(</text>
<text class="yl" transform="translate(62.30,254.50) rotate(-90) scale(0.9760,1.0450)" style="font-size:53px">μC/cm</text>
<text class="yl" transform="translate(33.40,111.40) rotate(-90) scale(1.2900,1.0400)" style="font-size:42px">2</text>
<text class="yl" transform="translate(60.80,88.30) rotate(-90) scale(1.1300,1.0100)" style="font-size:69px">)</text>
<text class="note" transform="translate(762.00,589.00) scale(1.01,1)" text-anchor="start">at 5 Hz</text>
<line x1="159.2" y1="40.1" x2="225" y2="40.1" stroke="#000000" stroke-width="5.5" stroke-linecap="round"/>
<text class="leg" transform="translate(231.00,49.30) scale(1.025,1)" text-anchor="start"><tspan class="it">x</tspan> = 0.00</text>
<line x1="159.2" y1="78.8" x2="225" y2="78.8" stroke="#ff0000" stroke-width="5.5" stroke-linecap="round"/>
<text class="leg" transform="translate(231.00,88.30) scale(1.025,1)" text-anchor="start"><tspan class="it">x</tspan> = 0.025</text>
<line x1="159.2" y1="117.5" x2="225" y2="117.5" stroke="#006b04" stroke-width="5.5" stroke-linecap="round"/>
<text class="leg" transform="translate(231.00,127.00) scale(1.025,1)" text-anchor="start"><tspan class="it">x</tspan> = 0.05</text>
<line x1="159.2" y1="156.25" x2="225" y2="156.25" stroke="#ff00ff" stroke-width="5.5" stroke-linecap="round"/>
<text class="leg" transform="translate(231.00,165.80) scale(1.025,1)" text-anchor="start"><tspan class="it">x</tspan> = 0.10</text>
<line x1="159.2" y1="188" x2="225" y2="188" stroke="#0000ff" stroke-width="5.5" stroke-linecap="round"/>
<text class="leg" transform="translate(231.00,197.50) scale(1.025,1)" text-anchor="start"><tspan class="it">x</tspan> = 0.15</text>
</svg>
</body>
</html>
